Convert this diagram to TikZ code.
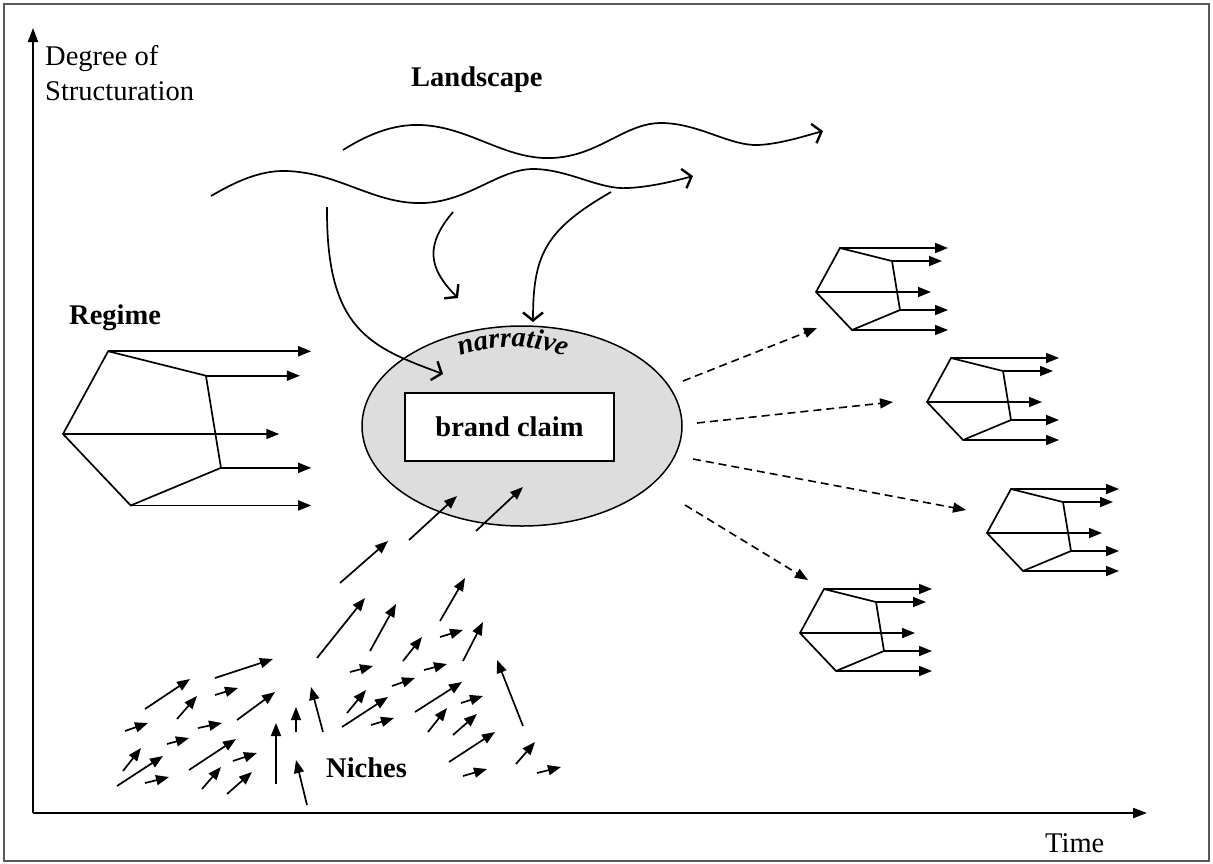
\documentclass[tikz,border=0pt]{standalone}
\usepackage{fontspec}
\setmainfont{Liberation Serif}
\usetikzlibrary{arrows.meta,decorations.text}
\definecolor{ellfill}{RGB}{221,221,221}
\begin{document}
\begin{tikzpicture}[x=1pt,y=-1pt,
  every node/.style={inner sep=0pt,font=\fontsize{28.5}{34}\selectfont},
  lbl/.style={anchor=base west},
  arr/.style={line width=1.7pt,-{Triangle[length=13pt,width=10pt]}},
  dasharr/.style={line width=1.6pt,dash pattern=on 8pt off 5pt,-{Triangle[length=13pt,width=10pt]}},
  wave/.style={line width=1.7pt,-{Straight Barb[length=8pt,width=20pt,line width=2.4pt]}},
  pline/.style={line width=1.7pt,line join=miter},
  pent/.pic={
    \coordinate (-L) at (0,0);
    \coordinate (-T) at (24,-44);
    \coordinate (-U) at (76,-31);
    \coordinate (-R) at (84,18);
    \coordinate (-B) at (36,38);
    \coordinate (-t) at (132,-44);
    \coordinate (-u) at (126,-31);
    \coordinate (-m) at (115,0);
    \coordinate (-r) at (132,18);
    \coordinate (-b) at (132,38);
    \draw[pline] (-L) -- (-T) -- (-U) -- (-R) -- (-B) -- cycle;
    \draw[arr] (-T) -- (-t);
    \draw[arr] (-U) -- (-u);
    \draw[arr] (-L) -- (-m);
    \draw[arr] (-R) -- (-r);
    \draw[arr] (-B) -- (-b);
  }
]
\useasboundingbox (0,0) rectangle (1213,863);
% frame
\draw[line width=2pt,black!65] (4,4) rectangle (1209,861);
% axes
\coordinate (O) at (33,813);
\coordinate (Ytop) at (33,28);
\coordinate (Xend) at (1147,813);
\draw[line width=2pt,-{Triangle[length=14pt,width=10pt]}] (O) -- (Ytop);
\draw[line width=2pt,-{Triangle[length=14pt,width=10pt]}] (O) -- (Xend);
\node[lbl] (deg) at (45,65) {Degree of};
\node[lbl] (str) at (45,100) {Structuration};
\node[lbl] (time) at (1045,852) {Time};
\node[lbl,font=\fontsize{28.5}{34}\selectfont\bfseries] (land) at (411,86) {Landscape};
\node[lbl,font=\fontsize{28.5}{34}\selectfont\bfseries] (reglbl) at (69,324) {Regime};
\node[lbl,font=\fontsize{28.5}{34}\selectfont\bfseries] (niches) at (326,777) {Niches};

% narrative ellipse and brand claim
\draw[line width=1.5pt,fill=ellfill] (522,426) ellipse [x radius=160pt, y radius=100pt];
\node[draw,line width=1.6pt,fill=white,minimum width=209pt,minimum height=68pt,
      font=\fontsize{28.5}{34}\selectfont\bfseries] (claim) at (509.5,427) {brand claim};
\path[decorate,decoration={text along path,text align=center,
      text={|\fontsize{28.5}{34}\selectfont\bfseries\itshape|narrative}}]
   (446,362) .. controls (488,342) and (538,342) .. (580,362);

% landscape waves
\draw[wave] (343,150) .. controls (370,133) and (395,124) .. (421,125)
   .. controls (470,127) and (505,160) .. (552,158)
   .. controls (600,156) and (625,122) .. (663,123)
   .. controls (700,124) and (730,146) .. (758,145)
   .. controls (780,144) and (805,136) .. (823,131);
\draw[wave] (211,196) .. controls (235,182) and (260,170) .. (287,171)
   .. controls (340,173) and (375,205) .. (424,203)
   .. controls (470,201) and (500,168) .. (535,169)
   .. controls (570,170) and (600,190) .. (628,188)
   .. controls (650,187) and (675,181) .. (693,176);
% downward influences
\draw[wave] (327,207) .. controls (326,330) and (370,347) .. (443,374);
\draw[wave] (453,212) .. controls (425,245) and (428,268) .. (458,298);
\draw[wave] (611,192) .. controls (545,230) and (533,255) .. (533,322);

% regime
\pic[scale=1.88] (reg) at (63,434) {pent};
% new regimes
\pic (p1) at (816,292) {pent};
\pic (p2) at (927,402) {pent};
\pic (p3) at (987,533) {pent};
\pic (p4) at (800,633) {pent};
\draw[dasharr] (683,381) -- (817,328);
\draw[dasharr] (697,423) -- (893,402);
\draw[dasharr] (693,459) -- (966,510);
\draw[dasharr] (685,505) -- (808,580);

% niches
\foreach \a/\b/\c/\d in {
  340/583/388/541, 317/658/365/598, 145/709/190/679, 215/678/273/659,
  215/695/238/688, 177/719/197/696, 125/731/148/723, 237/720/275/692,
  198/728/222/723, 167/744/189/738, 123/771/141/748, 117/786/163/756,
  189/770/236/739, 145/783/169/777, 233/761/257/753, 202/789/221/767,
  227/794/252/772, 276/784/276/723, 296/732/296/707, 323/732/311/687,
  307/805/296/760, 370/651/396/604, 440/621/465/578, 350/672/373/666,
  403/661/422/637, 440/637/463/630, 463/661/483/622, 424/670/447/664,
  392/686/415/678, 347/713/366/690, 342/727/388/697, 371/725/394/718,
  415/712/462/682, 461/703/483/696, 428/732/447/708, 453/735/477/714,
  523/726/497/660, 449/762/495/732, 463/776/487/769, 516/764/535/742,
  537/773/561/767, 409/540/457/496, 476/531/523/487}
  \draw[arr] (\a,\b) -- (\c,\d);
\end{tikzpicture}
\end{document}
